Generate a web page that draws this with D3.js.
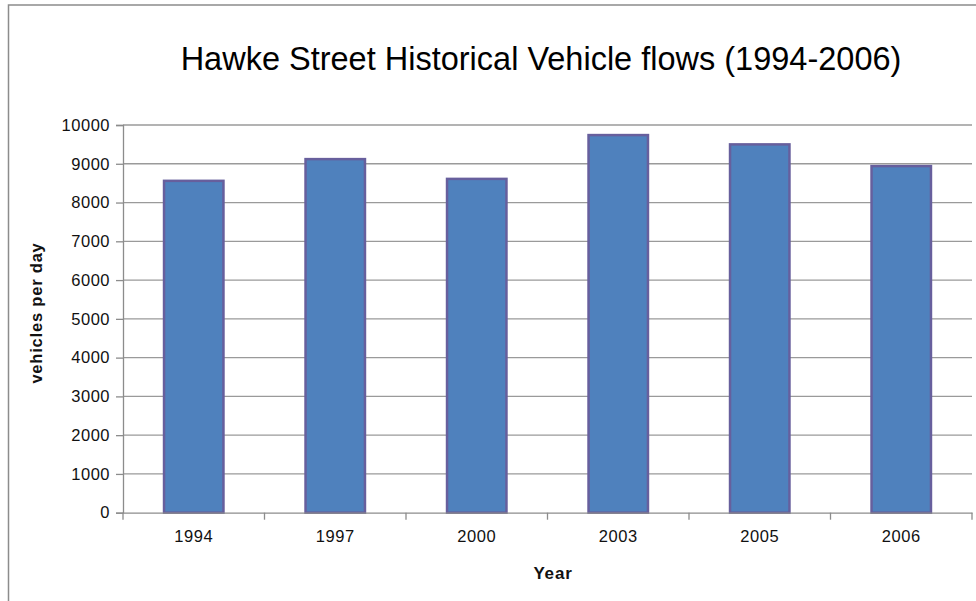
<!DOCTYPE html>
<html><head><meta charset="utf-8">
<script src="https://cdn.jsdelivr.net/npm/d3@7"></script>
<style>body{margin:0;background:#fff}svg{display:block}text{font-family:"Liberation Sans",Arial,sans-serif}</style>
</head><body><svg id="c" width="976" height="601"></svg>
<script>
const categories = ["1994","1997","2000","2003","2005","2006"];
const values = [8560, 9120, 8610, 9740, 9500, 8940];
const yTicks = [0,1000,2000,3000,4000,5000,6000,7000,8000,9000,10000];
const title = "Hawke Street Historical Vehicle flows (1994-2006)";
const yLabel = "vehicles per day";
const xLabel = "Year";

const svg = d3.select("#c");
const m = {left:123, right:972, top:125, bottom:512.7};

svg.append("rect").attr("x",8.5).attr("y",5).attr("width",1000).attr("height",700)
  .attr("fill","none").attr("stroke","#8c8c8c").attr("stroke-width",1.5);

const x = d3.scaleBand().domain(categories).range([m.left,m.right]).paddingInner(0.58).paddingOuter(0.29);
const xb = d3.scaleBand().domain(categories).range([m.left,m.right]);
const y = d3.scaleLinear().domain([0,10000]).range([m.bottom,m.top]);

// gridlines
svg.append("g").selectAll("line").data(yTicks.filter(d=>d>0)).join("line")
  .attr("x1",m.left).attr("x2",m.right).attr("y1",d=>y(d)).attr("y2",d=>y(d))
  .attr("stroke","#9a9a9a").attr("stroke-width",1.3);

// y axis
const ya = svg.append("g").attr("transform",`translate(${m.left},0)`)
  .call(d3.axisLeft(y).tickValues(yTicks).tickSize(7).tickPadding(6).tickFormat(d3.format("d")));
ya.select(".domain").attr("stroke","#8c8c8c").attr("stroke-width",1.3);
ya.selectAll(".tick line").attr("stroke","#8c8c8c").attr("stroke-width",1.3);
ya.selectAll("text").attr("font-size",16.5).attr("letter-spacing","0.5px").attr("fill","#111");

// bars
svg.append("g").selectAll("rect").data(values).join("rect")
  .attr("x",(d,i)=>x(categories[i])).attr("width",x.bandwidth())
  .attr("y",d=>y(d)).attr("height",d=>y(0)-y(d))
  .attr("fill","#4F81BD").attr("stroke","#675f9d").attr("stroke-width",2.5);

// x axis
const xa = svg.append("g").attr("transform",`translate(0,${m.bottom})`)
  .call(d3.axisBottom(xb).tickSize(0).tickPadding(18));
xa.select(".domain").attr("stroke","#8c8c8c").attr("stroke-width",1.3);
xa.selectAll("text").attr("font-size",16.5).attr("letter-spacing","0.6px").attr("fill","#111");
const bounds = categories.map(c=>xb(c)).concat([m.right]);
svg.append("g").selectAll("line").data(bounds).join("line")
  .attr("x1",d=>d).attr("x2",d=>d).attr("y1",m.bottom).attr("y2",m.bottom+7)
  .attr("stroke","#8c8c8c").attr("stroke-width",1.3);

svg.append("text").attr("x",541).attr("y",70).attr("text-anchor","middle")
  .attr("font-size",32.5).attr("fill","#000").text(title);
svg.append("text").attr("x",553).attr("y",579).attr("text-anchor","middle")
  .attr("font-size",17).attr("font-weight","bold").attr("letter-spacing","0.8px").attr("fill","#111").text(xLabel);
svg.append("text").attr("transform","translate(42,313) rotate(-90)").attr("text-anchor","middle")
  .attr("font-size",16.5).attr("font-weight","bold").attr("letter-spacing","0.8px").attr("fill","#111").text(yLabel);
</script></body></html>
